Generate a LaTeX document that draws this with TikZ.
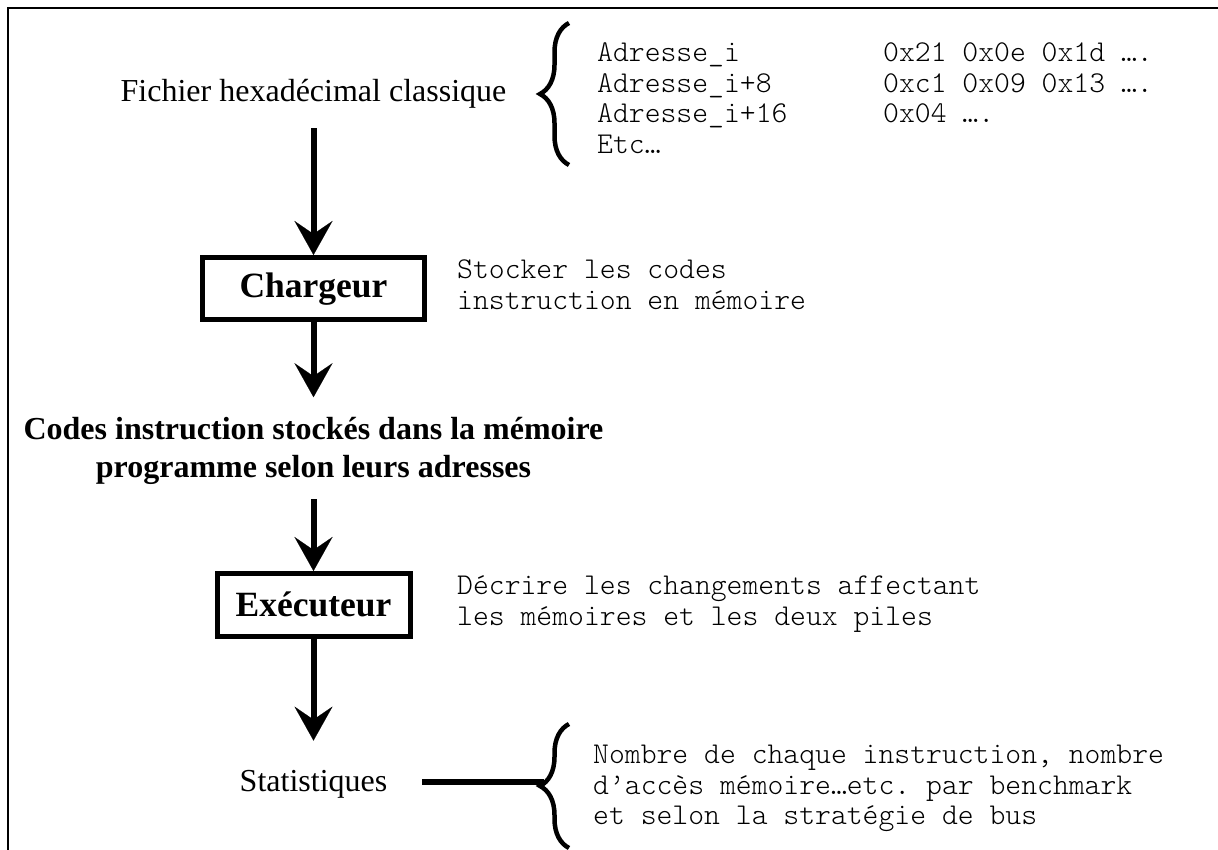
\documentclass[tikz,border=0pt]{standalone}
\usepackage{fontspec}
\setmainfont{Liberation Serif}
\setmonofont{Latin Modern Mono Light}
\usetikzlibrary{arrows.meta,decorations.pathreplacing}
\begin{document}
\begin{tikzpicture}[x=1pt,y=1pt,
  flowarrow/.style={line width=6pt,-{Stealth[length=34pt,width=38pt,inset=13pt,line width=0.1pt]}},
  procbox/.style={draw,line width=5pt,inner sep=0pt,font=\fontsize{35.5}{40}\bfseries\selectfont},
  plaintext/.style={inner sep=0pt,font=\fontsize{32}{38}\selectfont},
  monotext/.style={inner sep=0pt,anchor=base west,font=\fontsize{30.2}{30.5}\ttfamily\selectfont},
  bigbrace/.style={decorate,decoration={brace,amplitude=29pt},line width=4.5pt},
  frameline/.style={line width=2.5pt}]
\useasboundingbox (0,0) rectangle (1218,850);
% frame
\coordinate (frTR) at (1218,842);
\coordinate (frTL) at (8,842);
\coordinate (frBL) at (8,0);
\draw[frameline] (frTR) -- (frTL) -- (frBL);

% top text
\node[plaintext,anchor=base] (fich) at (313.5,748) {Fichier hexadécimal classique};
\coordinate (b1s) at (569,685);
\coordinate (b1e) at (569,827);
\draw[bigbrace] (b1s) -- (b1e);
\node[monotext] (hexfile) at (597,788) {\begin{tabular}[t]{@{}l@{}}
\makebox[286pt][l]{Adresse\_i}0x21 0x0e 0x1d ….\\
\makebox[286pt][l]{Adresse\_i+8}0xc1 0x09 0x13 ….\\
\makebox[286pt][l]{Adresse\_i+16}0x04 ….\\
Etc…
\end{tabular}};

% Chargeur
\node[procbox,minimum width=222pt,minimum height=62.5pt] (chg) at (313.5,561.25) {Chargeur};
\node[monotext] (stock) at (457,571) {\begin{tabular}[t]{@{}l@{}}Stocker les codes\\instruction en mémoire\end{tabular}};

% Codes
\node[plaintext,anchor=base] (codes) at (313.5,410) {\fontsize{32}{38}\bfseries\selectfont\begin{tabular}[t]{@{}c@{}}Codes instruction stockés dans la mémoire\\programme selon leurs adresses\end{tabular}};

% Executeur
\node[procbox,minimum width=193pt,minimum height=62.6pt] (exe) at (313.5,245.2) {Exécuteur};
\node[monotext] (decr) at (457,255) {\begin{tabular}[t]{@{}l@{}}Décrire les changements affectant\\les mémoires et les deux piles\end{tabular}};

% Statistiques
\node[plaintext,anchor=base] (stat) at (313.5,58) {Statistiques};
\coordinate (b2s) at (569,2);
\coordinate (b2e) at (569,126);
\coordinate (b2tip) at (544,68);
\draw[bigbrace] (b2s) -- (b2e);
\node[monotext] (nomb) at (593,86) {\begin{tabular}[t]{@{}l@{}}Nombre de chaque instruction, nombre\\d’accès mémoire…etc. par benchmark\\et selon la stratégie de bus\end{tabular}};

% arrows
\draw[flowarrow,shorten <=19.5pt] (fich.south) -- (chg.north);
\draw[flowarrow,shorten >=16pt] (chg.south) -- (codes.north);
\draw[flowarrow,shorten <=9.5pt] (codes.south) -- (exe.north);
\draw[flowarrow,shorten >=30pt] (exe.south) -- (stat.north);
\draw[line width=6pt,shorten <=35pt] (stat.east |- b2tip) -- (b2tip);
\end{tikzpicture}
\end{document}
